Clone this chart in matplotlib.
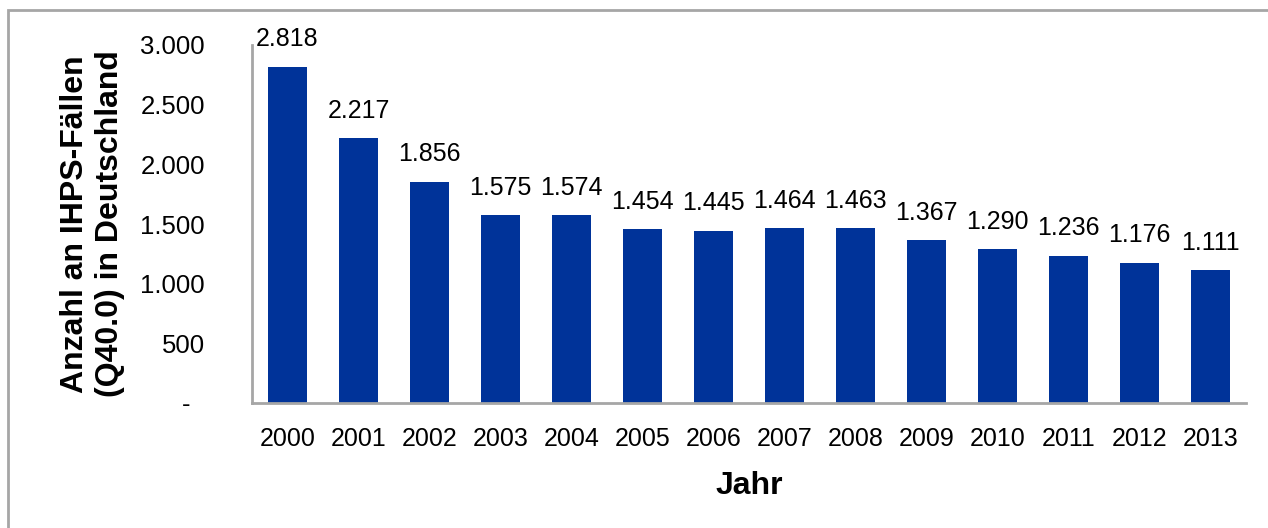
import matplotlib
matplotlib.use("Agg")
import matplotlib.pyplot as plt
from matplotlib.patches import Rectangle

years = ["2000", "2001", "2002", "2003", "2004", "2005", "2006",
         "2007", "2008", "2009", "2010", "2011", "2012", "2013"]
cases = [2818, 2217, 1856, 1575, 1574, 1454, 1445,
         1464, 1463, 1367, 1290, 1236, 1176, 1111]
y_ticks = [0, 500, 1000, 1500, 2000, 2500, 3000]


def de_number(v):
    # German thousands separator, zero shown as a dash (accounting style)
    if v == 0:
        return "-  "
    return f"{v:,.0f}".replace(",", ".")


plt.rcParams["font.family"] = ["Liberation Sans", "DejaVu Sans"]

fig = plt.figure(figsize=(12.68, 5.28), dpi=100)
fig.patches.append(Rectangle((8 / 1268, -0.1), 1.2, 1.1 - 10 / 528,
                             transform=fig.transFigure, fill=False,
                             edgecolor="#a6a6a6", linewidth=2))

ax = fig.add_axes([252 / 1268, 125 / 528, 994 / 1268, 358 / 528])
x = range(len(years))
ax.bar(x, cases, width=0.56, color="#003399")

for xi, v in zip(x, cases):
    ax.annotate(de_number(v), (xi, v), xytext=(0, 11), textcoords="offset points",
                ha="center", va="bottom", fontsize=18)

ax.set_xlim(-0.5, len(years) - 0.5)
ax.set_ylim(0, 3000)
ax.set_xticks(list(x))
ax.set_xticklabels(years, fontsize=18)
ax.set_yticks(y_ticks)
ax.set_yticklabels([de_number(v) for v in y_ticks], fontsize=18.5)
ax.tick_params(axis="x", length=0, pad=17)
ax.tick_params(axis="y", length=0, pad=34)

for side in ["top", "right"]:
    ax.spines[side].set_visible(False)
for side in ["left", "bottom"]:
    ax.spines[side].set_color("#a6a6a6")
    ax.spines[side].set_linewidth(2)

ax.set_xlabel("Jahr", fontsize=23, fontweight="bold", labelpad=15)
ax.set_ylabel("Anzahl an IHPS-Fällen\n(Q40.0) in Deutschland",
              fontsize=23, fontweight="bold", labelpad=11, linespacing=1.2)

fig.savefig("out.png", dpi=100)
